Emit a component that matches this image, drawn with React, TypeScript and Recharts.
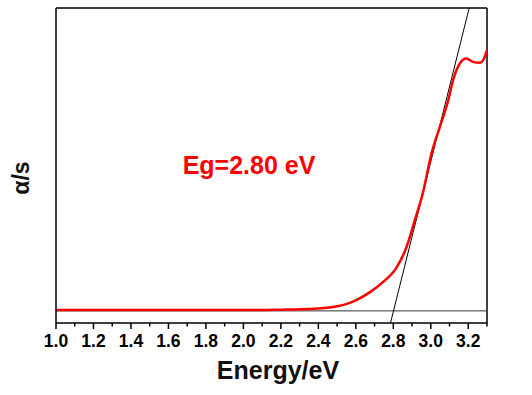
import {
  ComposedChart,
  Line,
  XAxis,
  YAxis,
  ReferenceLine,
} from "recharts";

// absorption curve (energy in eV, arbitrary units)
const energy = [
  1.0, 1.2, 1.4, 1.6, 1.8, 2.0, 2.1, 2.2, 2.3, 2.4, 2.46, 2.5, 2.556, 2.6,
  2.674, 2.743, 2.817, 2.87, 2.914, 2.957, 3.004, 3.048, 3.093, 3.119, 3.155,
  3.19, 3.226, 3.262, 3.28, 3.3,
];
const alpha = [
  0.003, 0.003, 0.003, 0.003, 0.003, 0.003, 0.003, 0.004, 0.005, 0.008, 0.011,
  0.015, 0.024, 0.035, 0.061, 0.094, 0.143, 0.21, 0.298, 0.387, 0.52, 0.607,
  0.695, 0.762, 0.817, 0.833, 0.822, 0.819, 0.828, 0.861,
];

// tangent line used for the band gap extrapolation
const fitEnergy = [2.785, 3.205];
const fitAlpha = [-0.04, 1.0];

const xTicks = [
  1.0, 1.1, 1.2, 1.3, 1.4, 1.5, 1.6, 1.7, 1.8, 1.9, 2.0, 2.1, 2.2, 2.3, 2.4,
  2.5, 2.6, 2.7, 2.8, 2.9, 3.0, 3.1, 3.2, 3.3,
];

const curve = energy.map((e, i) => ({ e, a: alpha[i] }));
const fit = fitEnergy.map((e, i) => ({ e, a: fitAlpha[i] }));

const font = "'Liberation Sans', Arial, sans-serif";

function Tick(props: any) {
  const { x, y, payload } = props;
  const major = Math.round(payload.value * 10) % 2 === 0;
  const isLast = Math.abs(payload.value - 3.3) < 1e-6;
  return (
    <g>
      <line
        x1={x}
        x2={x}
        y1={y}
        y2={y + (major ? 6 : 3.5)}
        stroke="#000"
        strokeWidth={1.5}
      />
      {major && !isLast && (
        <text
          x={x}
          y={y + 24}
          textAnchor="middle"
          fontFamily={font}
          fontWeight="bold"
          fontSize={17.5}
          fill="#000"
        >
          {payload.value.toFixed(1)}
        </text>
      )}
    </g>
  );
}

export default function App() {
  return (
    <div style={{ position: "absolute", left: 0, top: 0 }}>
      <ComposedChart
        width={532}
        height={395}
        margin={{ top: 8, right: 45, bottom: 0, left: 0 }}
      >
        <XAxis
          dataKey="e"
          type="number"
          domain={[1.0, 3.3]}
          ticks={xTicks}
          allowDataOverflow
          interval={0}
          height={72}
          tickSize={0}
          tickMargin={0}
          tickLine={false}
          axisLine={{ stroke: "#000", strokeWidth: 1.5 }}
          tick={<Tick />}
        />
        <YAxis
          dataKey="a"
          type="number"
          domain={[-0.04, 1.0]}
          allowDataOverflow
          width={56}
          tick={false}
          tickLine={false}
          axisLine={{ stroke: "#000", strokeWidth: 1.5 }}
        />
        <ReferenceLine y={1.0} stroke="#000" strokeWidth={1.5} />
        <ReferenceLine x={3.3} stroke="#000" strokeWidth={1.5} />
        <ReferenceLine y={0} stroke="#333" strokeWidth={1} />
        <Line
          data={fit}
          dataKey="a"
          type="linear"
          stroke="#000"
          strokeWidth={1}
          dot={false}
          isAnimationActive={false}
        />
        <Line
          data={curve}
          dataKey="a"
          type="monotone"
          stroke="#ff0000"
          strokeWidth={2.5}
          dot={false}
          isAnimationActive={false}
        />
        <text
          x={249}
          y={174}
          textAnchor="middle"
          fontFamily={font}
          fontWeight="bold"
          fontSize={25}
          fill="#ff0000"
        >
          Eg=2.80 eV
        </text>
        <text
          x={278}
          y={379}
          textAnchor="middle"
          fontFamily={font}
          fontWeight="bold"
          fontSize={25}
          fill="#111"
        >
          Energy/eV
        </text>
        <text
          x={29}
          y={178}
          textAnchor="middle"
          fontFamily={font}
          fontWeight="bold"
          fontSize={23}
          fill="#111"
          transform="rotate(-90 29 178)"
        >
          α/s
        </text>
      </ComposedChart>
    </div>
  );
}
